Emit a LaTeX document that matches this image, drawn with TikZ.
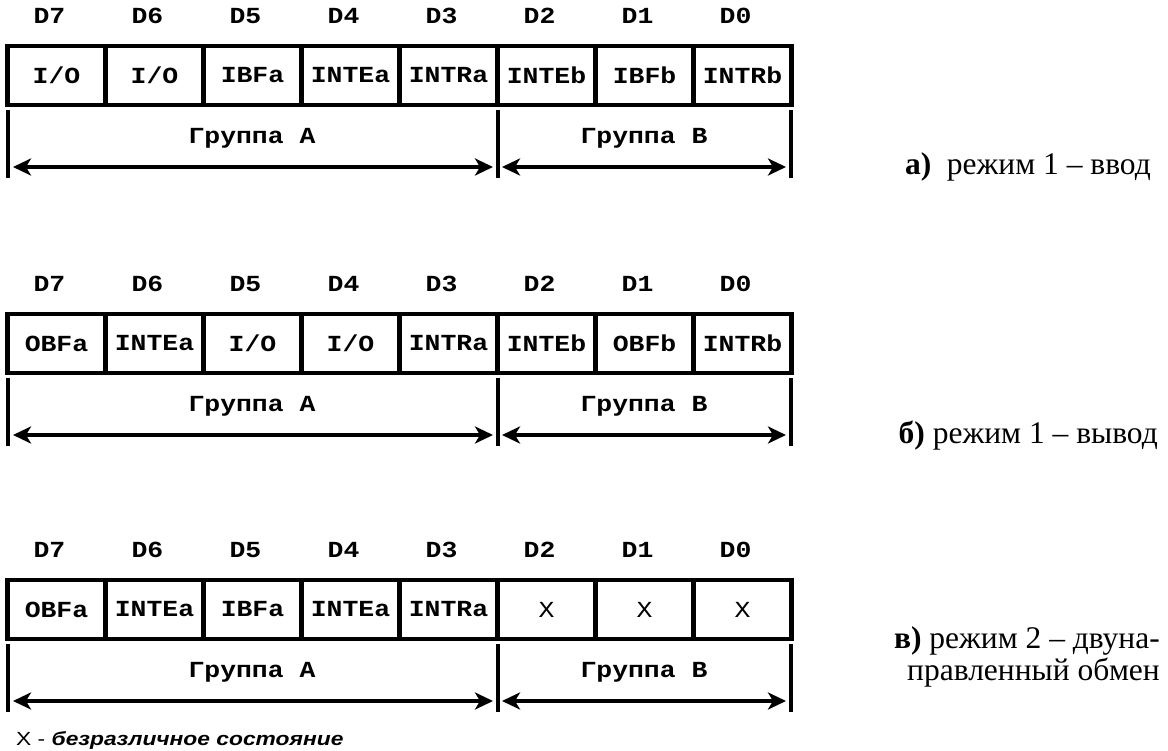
\documentclass[tikz,border=0pt]{standalone}
\usepackage{fontspec}
\setmainfont{Liberation Serif}
\newfontfamily\pixfont[FakeStretch=1.15]{Liberation Mono}
\newfontfamily\notefont[FakeStretch=1.2]{Liberation Sans}
\usetikzlibrary{arrows.meta,positioning}
\newcommand{\regfnt}{\pixfont\bfseries\fontsize{23}{23}\selectfont}
\tikzset{
  bitcell/.style={draw, line width=4.5pt, minimum width=98pt, minimum height=59pt,
    inner sep=0pt, outer sep=0pt, font=\regfnt},
  bitname/.style={inner sep=0pt, font=\regfnt},
  grpname/.style={inner sep=0pt, font=\regfnt},
  grpline/.style={line width=4pt},
  grparrow/.style={line width=4pt,
    {Stealth[length=18pt,width=17pt,inset=5pt]}-{Stealth[length=18pt,width=17pt,inset=5pt]}},
  modecap/.style={inner sep=0pt, align=right, font=\fontsize{31.5}{32}\selectfont}
}
% one control word: D7..D0, the cells, groups A and B
\newcommand{\ctlword}[3]{%
  \begin{scope}[yshift=#2]
    \foreach \lbl [count=\i from 0] in {#3} {
      \pgfmathtruncatemacro{\bit}{7-\i}
      \node[bitcell] (#1c\bit) at (56.5+98*\i,75.5) {\lbl};
      \node[bitname, above=22pt of #1c\bit, xshift=-7pt] (#1d\bit) {D\bit};
    }
    \coordinate (#1lt) at (8,110);     \coordinate (#1lb) at (8,178);
    \coordinate (#1mt) at (497.5,110); \coordinate (#1mb) at (497.5,178);
    \coordinate (#1rt) at (791,110);   \coordinate (#1rb) at (791,178);
    \draw[grpline] (#1lt) -- (#1lb); \draw[grpline] (#1mt) -- (#1mb);
    \draw[grpline] (#1rt) -- (#1rb);
    \coordinate (#1al) at (13,167);  \coordinate (#1am) at (493,167);
    \coordinate (#1bm) at (502,167); \coordinate (#1br) at (786,167);
    \draw[grparrow] (#1al) -- (#1am);
    \draw[grparrow] (#1bm) -- (#1br);
    \node[grpname] (#1ga) at (252,138) {Группа А};
    \node[grpname] (#1gb) at (644,138) {Группа В};
  \end{scope}}

\begin{document}
\begin{tikzpicture}[x=1pt, y=-1pt]
  \useasboundingbox (0,0) rectangle (1168,751);
  \ctlword{in}{0pt}{{I/O},{I/O},IBFa,INTEa,INTRa,INTEb,IBFb,INTRb}
  \ctlword{out}{-268pt}{OBFa,INTEa,{I/O},{I/O},INTRa,INTEb,OBFb,INTRb}
  \ctlword{bi}{-534pt}{OBFa,INTEa,IBFa,INTEa,INTRa,{\mdseries X},{\mdseries X},{\mdseries X}}

  \node[modecap, anchor=base east] (capa) at (1151,175) {\textbf{а)}\ \ режим 1 – ввод};
  \node[modecap, anchor=base east] (capb) at (1158,443) {\textbf{б)} режим 1 – вывод};
  \node[modecap, anchor=north east] (capc) at (1160,626) {\textbf{в)} режим 2 – двуна-\\правленный обмен};

  \node[inner sep=0pt, anchor=base west, font=\notefont\fontsize{19}{19}\selectfont] (note)
    at (16,745) {X - \textbf{\textit{безразличное состояние}}};
\end{tikzpicture}
\end{document}
